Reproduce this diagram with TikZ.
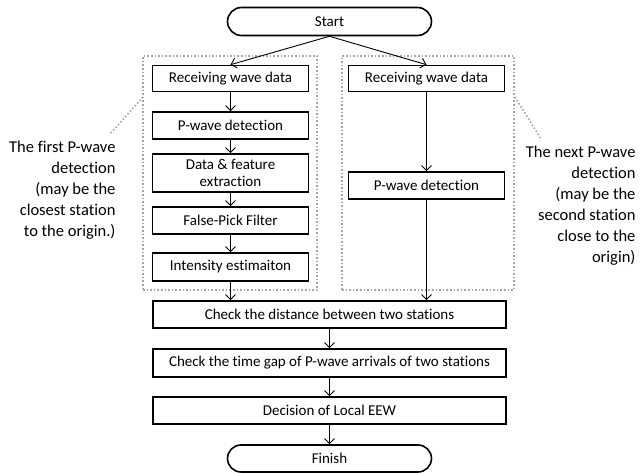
\documentclass[tikz,border=0pt]{standalone}
\usepackage{fontspec}
\setmainfont{Carlito}[Ligatures=NoCommon]
\usetikzlibrary{shapes,arrows.meta,positioning}

\begin{document}
\begin{tikzpicture}[
    x=1pt, y=-1pt,
    proc/.style={rectangle, draw, line width=1.6pt, minimum width=156pt, minimum height=27pt, inner sep=0pt, font=\fontsize{15}{16.5}\selectfont, align=center},
    wideproc/.style={proc, minimum width=353pt},
    term/.style={rounded rectangle, draw, line width=1.6pt, minimum width=204pt, minimum height=28pt, inner sep=0pt, font=\fontsize{15}{16.5}\selectfont},
    grpbox/.style={rectangle, draw=gray!70, dotted, line width=1.6pt, inner sep=0pt},
    note/.style={font=\fontsize{16.5}{21}\selectfont, align=right, anchor=east},
    flowline/.style={-{Straight Barb[length=5pt,width=10pt]}, line width=0.9pt},
    leader/.style={draw=gray!70, dotted, line width=1.6pt}
]
\useasboundingbox (0,0) rectangle (641,473);

% station groups
\node[grpbox, minimum width=174pt, minimum height=234pt] (grpL) at (230,173) {};
\node[grpbox, minimum width=172pt, minimum height=234pt] (grpR) at (428,173) {};

\node[term] (start) at (329.5,21.5) {Start};

\node[proc, minimum height=26pt] (recvL) at (230.5,78.5) {Receiving wave data};
\node[proc] (pwaveL) at (230.5,125.5) {P-wave detection};
\node[proc, minimum height=38pt] (featL) at (230.5,173) {Data \& feature\\extraction};
\node[proc] (filterL) at (230.5,220.5) {False-Pick Filter};
\node[proc, minimum height=28pt] (intensL) at (230.5,267) {Intensity estimaiton};

\node[proc, minimum height=26pt] (recvR) at (426.5,78.5) {Receiving wave data};
\node[proc] (pwaveR) at (426.5,185.5) {P-wave detection};

\node[wideproc] (dist) at (329.5,314.5) {Check the distance between two stations};
\node[wideproc, minimum height=28pt] (gap) at (329.5,363) {Check the time gap of P-wave arrivals of two stations};
\node[wideproc] (decide) at (329.5,410.5) {Decision of Local EEW};
\node[term, minimum height=27pt] (finish) at (329.5,458.5) {Finish};

% notes
\node[note] (noteL) at (119,190) {The first P-wave\\detection\\(may be the\\closest station\\to the origin.)};
\node[note] (noteR) at (639,205.5) {The next P-wave\\detection\\(may be the\\second station\\close to the\\origin)};
\coordinate (leadL1) at (143,97);
\coordinate (leadL2) at (110,134);
\coordinate (leadR1) at (515,97);
\coordinate (leadR2) at (541,139);
\draw[leader] (leadL1) -- (leadL2);
\draw[leader] (leadR1) -- (leadR2);

\draw[flowline] (start.south) -- (recvL.north);
\draw[flowline] (start.south) -- (recvR.north);
\draw[flowline] (recvL) -- (pwaveL);
\draw[flowline] (pwaveL) -- (featL);
\draw[flowline] (featL) -- (filterL);
\draw[flowline] (filterL) -- (intensL);
\draw[flowline] (intensL) -- (intensL |- dist.north);
\draw[flowline] (recvR) -- (pwaveR);
\draw[flowline] (pwaveR) -- (pwaveR |- dist.north);
\draw[flowline] (dist) -- (gap);
\draw[flowline] (gap) -- (decide);
\draw[flowline] (decide) -- (finish);
\end{tikzpicture}
\end{document}
